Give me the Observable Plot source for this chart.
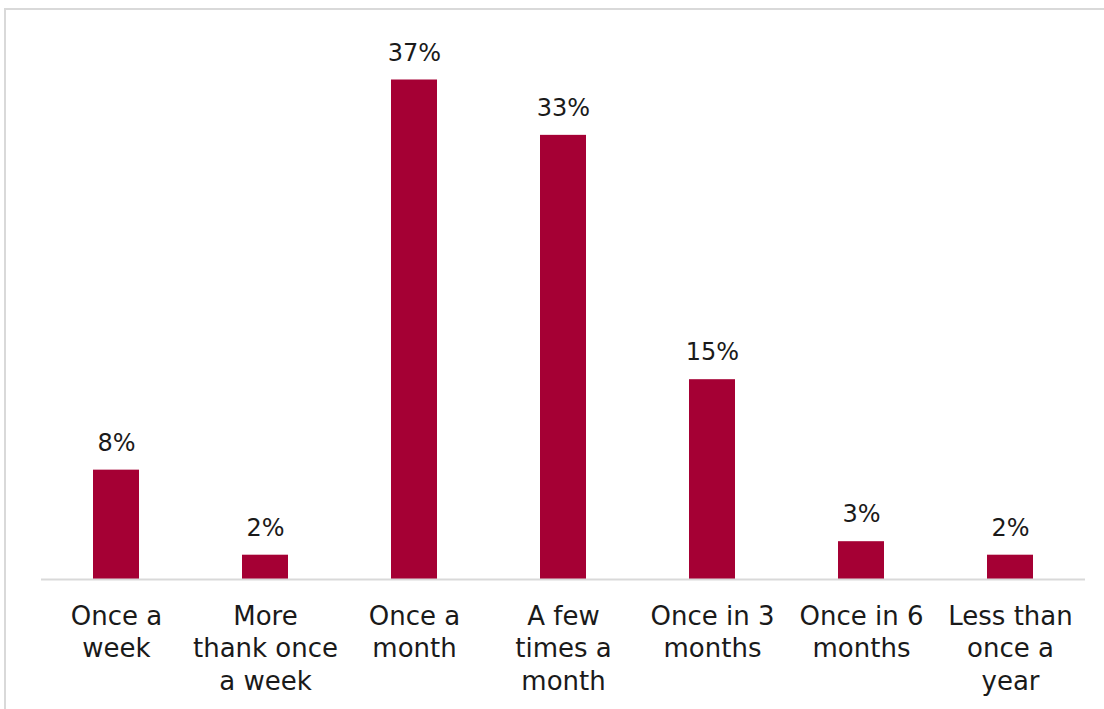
<!DOCTYPE html>
<html>
<head>
<meta charset="utf-8">
<script src="https://cdn.jsdelivr.net/npm/d3@7"></script>
<script src="https://cdn.jsdelivr.net/npm/@observablehq/plot@0.6"></script>
<style>
  html, body { margin: 0; padding: 0; background: #fff; }
  #wrap { position: relative; width: 1104px; height: 709px; overflow: hidden; }
  #frame { position: absolute; left: 4px; top: 8px; width: 1200px; height: 800px;
           border-left: 2px solid #d9d9d9; border-top: 2px solid #d9d9d9; }
  #chart { position: absolute; left: 0; top: 0; }
</style>
</head>
<body>
<div id="wrap"><div id="frame"></div><div id="chart"></div></div>
<script>
const categories = ["Once a\nweek", "More\nthank once\na week", "Once a\nmonth", "A few\ntimes a\nmonth", "Once in 3\nmonths", "Once in 6\nmonths", "Less than\nonce a\nyear"];
const values = [8.1, 1.8, 37, 32.9, 14.8, 2.8, 1.8];
const labels = ["8%", "2%", "37%", "33%", "15%", "3%", "2%"];

const data = categories.map((c, i) => ({category: c, value: values[i], label: labels[i]}));

const chart = Plot.plot({
  width: 1104,
  height: 709,
  marginLeft: 41,
  marginRight: 19,
  marginTop: 39,
  marginBottom: 130,
  style: {fontFamily: "'DejaVu Sans', Verdana, sans-serif", background: "transparent", color: "#1a1a1a"},
  x: {domain: categories, paddingInner: 0.69, paddingOuter: 0.345, label: null},
  y: {domain: [0, 40], axis: null},
  marks: [
    Plot.barY(data, {x: "category", y: "value", fill: "#a50034"}),
    Plot.ruleY([0], {stroke: "#d9d9d9", strokeWidth: 2}),
    Plot.text(data, {x: "category", y: "value", text: "label", dy: -27, fontSize: 24, fill: "#1a1a1a"}),
    Plot.axisX({tickSize: 0, tickPadding: 22, fontSize: 26, lineHeight: 1.25, label: null, fill: "#1a1a1a"})
  ]
});
document.getElementById("chart").appendChild(chart);
</script>
</body>
</html>
